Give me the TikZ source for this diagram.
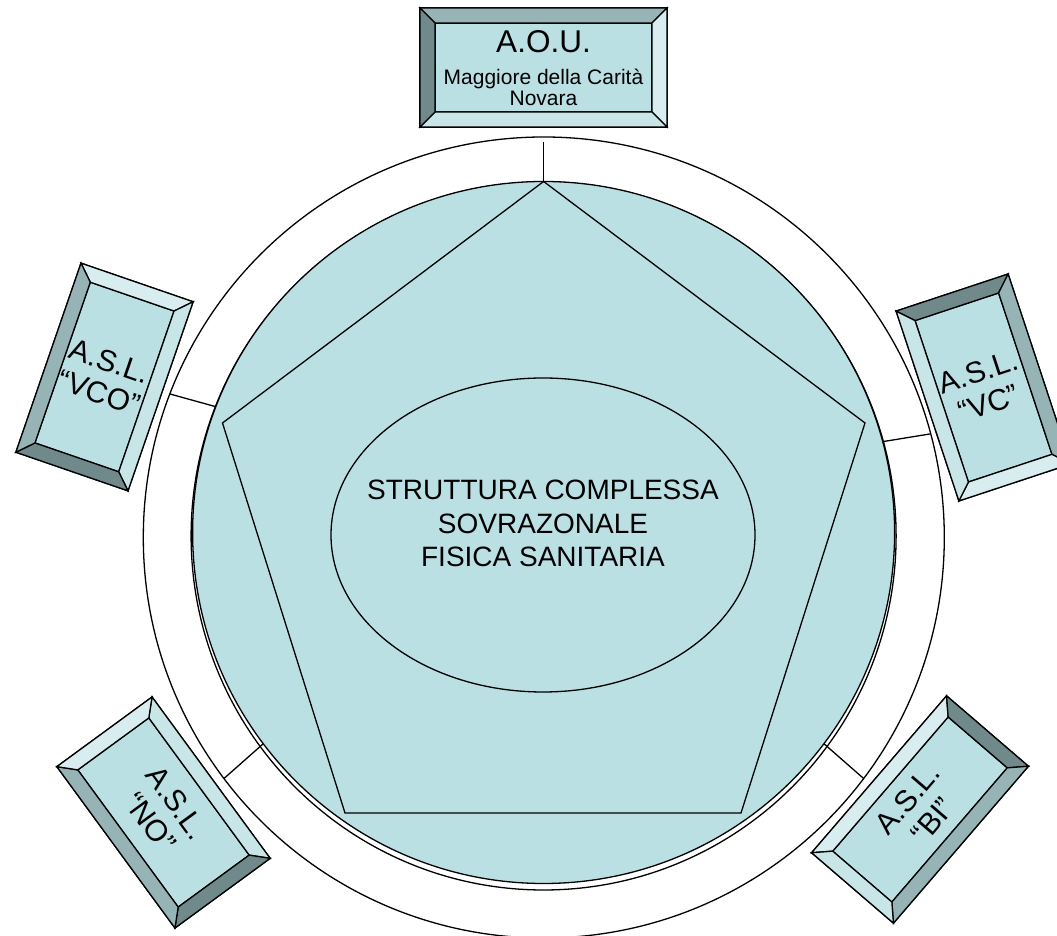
\documentclass[tikz,border=0pt]{standalone}
\usepackage{fontspec}
\setmainfont{Liberation Sans}
\usetikzlibrary{shapes.geometric,calc}
\definecolor{face}{HTML}{BBE0E3}
\definecolor{bvLight}{HTML}{D8EDEF}
\definecolor{bvPale}{HTML}{C8E5E8}
\definecolor{bvMid}{HTML}{96B3B6}
\definecolor{bvDark}{HTML}{708A8C}
\newcommand\drawbevels[5]{%
  \draw[fill=#2] (#1F.north west) -- (#1F.north east) -- (#1.north east) -- (#1.north west) -- cycle;
  \draw[fill=#3] (#1F.north east) -- (#1F.south east) -- (#1.south east) -- (#1.north east) -- cycle;
  \draw[fill=#4] (#1F.south east) -- (#1F.south west) -- (#1.south west) -- (#1.south east) -- cycle;
  \draw[fill=#5] (#1F.south west) -- (#1F.north west) -- (#1.north west) -- (#1.south west) -- cycle;
}
\begin{document}
\begin{tikzpicture}[x=1pt,y=1pt,line width=1.3pt,line join=miter,
  facebox/.style={draw,fill=face,inner sep=0pt,outer sep=0pt,align=center,
    font=\fontsize{30}{33}\selectfont},
  framebox/.style={draw,inner sep=0pt,outer sep=0pt},
  ringshape/.style={draw,inner sep=0pt,outer sep=0pt},
  bigtext/.style={font=\fontsize{28}{33.3}\selectfont,align=center,inner sep=0pt},
  link/.style={draw,line width=1.3pt}]
\useasboundingbox (0,0) rectangle (1057,936);

% circles
\node[ringshape,circle,minimum size=801pt] (outer) at (543.8,398.5) {};
\node[ringshape,ellipse,minimum width=705pt,minimum height=708pt] (ring) at (543.6,400) {};
\node[ringshape,circle,fill=face,minimum size=702pt] (disc) at (543.6,403.5) {};

% pentagon
\coordinate (pT) at (543.6,754.5);
\coordinate (pL) at (222.5,513);
\coordinate (pR) at (865,513);
\coordinate (pBL) at (345,123);
\coordinate (pBR) at (741,123);
\draw (pT) -- (pR) -- (pBR) -- (pBL) -- (pL) -- cycle;

% central ellipse
\node[ringshape,ellipse,fill=face,minimum width=424pt,minimum height=314pt] (core) at (543,401) {};
\node[bigtext] (coretext) at (543,412.5) {STRUTTURA COMPLESSA\\SOVRAZONALE\\FISICA SANITARIA};

% connectors
\coordinate (topin) at (543.6,794);
\draw[link] (topin) -- (disc.north);
\draw[link] (outer.159.6) -- (disc.159.6);
\draw[link] (outer.15.7) -- (disc.15.7);
\draw[link] (outer.217.2) -- (disc.217.2);
\draw[link] (outer.323.1) -- (disc.323.1);

% top box
\node[facebox,minimum width=217pt,minimum height=89pt] (aou) at (543.5,868.5) {};
\node[framebox,minimum width=247pt,minimum height=119pt] (aouF) at (543.5,868.5) {};
\drawbevels{aou}{bvMid}{bvLight}{bvPale}{bvDark}
\node[anchor=base,inner sep=0pt,font=\fontsize{31.5}{36}\selectfont] (aouA) at (543.5,883) {A.O.U.};
\node[anchor=base,inner sep=0pt,font=\fontsize{21}{25}\selectfont] (aouB) at (543.5,851) {Maggiore della Carità};
\node[anchor=base,inner sep=0pt,font=\fontsize{21}{25}\selectfont] (aouC) at (543.5,830) {Novara};

% VCO box
\node[facebox,rotate=-19,minimum width=88.6pt,minimum height=170pt] (vco) at (104.5,559) {A.S.L.\\“VCO”};
\node[framebox,rotate=-19,minimum width=118.6pt,minimum height=200pt] (vcoF) at (104.5,559) {};
\drawbevels{vco}{bvLight}{bvPale}{bvDark}{bvMid}

% VC box
\node[facebox,rotate=18.3,minimum width=88pt,minimum height=170pt] (vc) at (983.5,548.5) {A.S.L.\\“VC”};
\node[framebox,rotate=18.3,minimum width=118pt,minimum height=200pt] (vcF) at (983.5,548.5) {};
\drawbevels{vc}{bvDark}{bvMid}{bvLight}{bvPale}

% NO box
\node[facebox,rotate=-53.8,minimum width=170pt,minimum height=88pt] (no) at (163.5,123.5) {A.S.L.\\“NO”};
\node[framebox,rotate=-53.8,minimum width=200pt,minimum height=118pt] (noF) at (163.5,123.5) {};
\drawbevels{no}{bvPale}{bvDark}{bvMid}{bvLight}

% BI box
\node[facebox,rotate=49.3,minimum width=177pt,minimum height=78pt] (bi) at (920,126.5) {A.S.L.\\“BI”};
\node[framebox,rotate=49.3,minimum width=207pt,minimum height=108pt] (biF) at (920,126.5) {};
\drawbevels{bi}{bvLight}{bvDark}{bvMid}{bvPale}
\end{tikzpicture}
\end{document}
